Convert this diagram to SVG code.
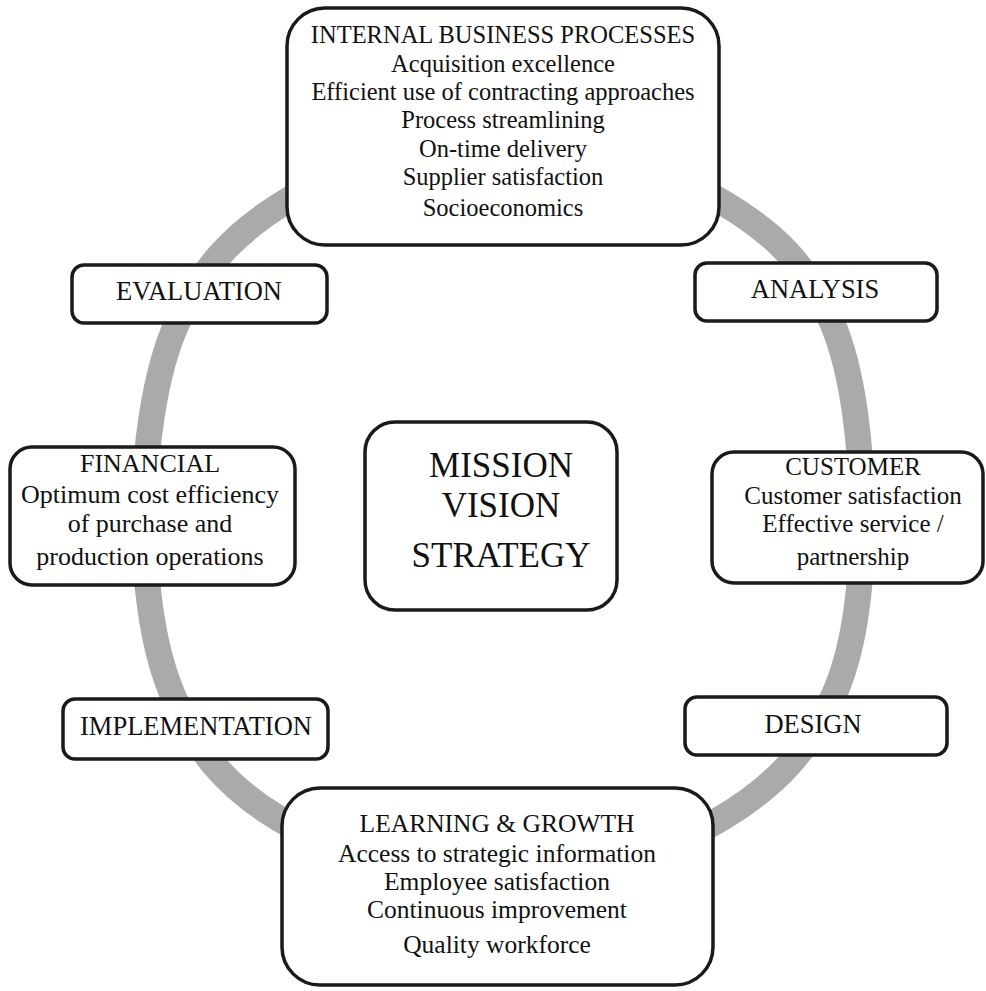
<svg xmlns="http://www.w3.org/2000/svg" width="986" height="991" viewBox="0 0 986 991">
<style>
.box{fill:#ffffff;stroke:#1a1a1a;stroke-width:3.5}
.t{font-family:"Liberation Serif","Times New Roman",serif;fill:#111111;text-anchor:middle}
.ring{fill:none;stroke:#aaaaaa;stroke-width:26}
</style>
<rect x="0" y="0" width="986" height="991" fill="#ffffff"/>
<g id="connectors">
<path class="ring" d="M500,125 C427.2,125 338.8,169 285,202 C231.2,235 200.5,270.8 177,323 C153.5,375.2 144.5,452.5 144,515 C144.5,577.5 151.7,647.5 174,698 C196.3,748.5 223.7,785.2 278,818 C332.3,850.8 426,895 500,895 C574,895 666.5,851 722,818 C777.5,785 809.7,747.5 833,697 C856.3,646.5 862.3,577.8 862,515 C861.7,452.2 854.3,372.2 831,320 C807.7,267.8 777.2,234.5 722,202 C666.8,169.5 572.8,125 500,125 Z"/>
</g>
<g id="internal">
<rect class="box" x="287" y="8" width="432" height="237" rx="38"/>
<text class="t" font-size="24.5" x="503" y="43">INTERNAL BUSINESS PROCESSES</text>
<text class="t" font-size="24.5" x="503" y="72">Acquisition excellence</text>
<text class="t" font-size="24.5" x="503" y="100">Efficient use of contracting approaches</text>
<text class="t" font-size="24.5" x="503" y="128">Process streamlining</text>
<text class="t" font-size="24.5" x="503" y="157">On-time delivery</text>
<text class="t" font-size="24.5" x="503" y="185">Supplier satisfaction</text>
<text class="t" font-size="24.5" x="503" y="216">Socioeconomics</text>
</g>
<g id="evaluation">
<rect class="box" x="72" y="265" width="255" height="58" rx="12"/>
<text class="t" font-size="26.5" x="199" y="300">EVALUATION</text>
</g>
<g id="analysis">
<rect class="box" x="695" y="263" width="242" height="58" rx="12"/>
<text class="t" font-size="26.5" x="815" y="298">ANALYSIS</text>
</g>
<g id="financial">
<rect class="box" x="10" y="447" width="285" height="138" rx="22"/>
<text class="t" font-size="26" x="150" y="472">FINANCIAL</text>
<text class="t" font-size="26" x="150" y="503">Optimum cost efficiency</text>
<text class="t" font-size="26" x="150" y="532">of purchase and</text>
<text class="t" font-size="26" x="150" y="565">production operations</text>
</g>
<g id="mission">
<rect class="box" x="365" y="422" width="252" height="188" rx="30"/>
<text class="t" font-size="35" x="501" y="477">MISSION</text>
<text class="t" font-size="35" x="501" y="517">VISION</text>
<text class="t" font-size="35" x="501" y="567">STRATEGY</text>
</g>
<g id="customer">
<rect class="box" x="712" y="452" width="271" height="131" rx="22"/>
<text class="t" font-size="25" x="853" y="475">CUSTOMER</text>
<text class="t" font-size="25" x="853" y="504">Customer satisfaction</text>
<text class="t" font-size="25" x="853" y="532">Effective service /</text>
<text class="t" font-size="25" x="853" y="565">partnership</text>
</g>
<g id="implementation">
<rect class="box" x="63" y="699" width="265" height="60" rx="12"/>
<text class="t" font-size="26.5" x="196" y="735">IMPLEMENTATION</text>
</g>
<g id="design">
<rect class="box" x="685" y="697" width="262" height="58" rx="12"/>
<text class="t" font-size="26.5" x="813" y="733">DESIGN</text>
</g>
<g id="learning">
<rect class="box" x="282" y="788" width="431" height="197" rx="38"/>
<text class="t" font-size="25.5" x="497" y="832">LEARNING &amp; GROWTH</text>
<text class="t" font-size="25.5" x="497" y="862">Access to strategic information</text>
<text class="t" font-size="25.5" x="497" y="890">Employee satisfaction</text>
<text class="t" font-size="25.5" x="497" y="918">Continuous improvement</text>
<text class="t" font-size="25.5" x="497" y="953">Quality workforce</text>
</g>
</svg>
